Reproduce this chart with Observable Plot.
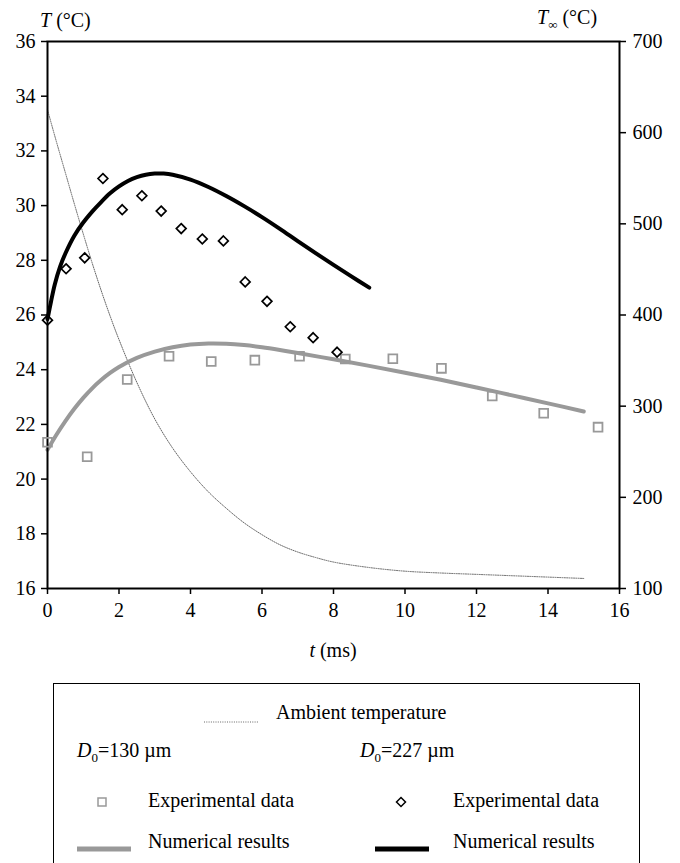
<!DOCTYPE html>
<html><head><meta charset="utf-8">
<script src="https://cdn.jsdelivr.net/npm/d3@7"></script>
<script src="https://cdn.jsdelivr.net/npm/@observablehq/plot@0.6"></script>
<style>
body{margin:0;background:#fff;font-family:'Liberation Serif','Times New Roman',Times,serif;}
#wrap{position:relative;width:680px;height:863px;overflow:hidden;}
#legend{position:absolute;left:53px;top:683px;width:587px;height:220px;border:1.5px solid #000;border-bottom:none;box-sizing:border-box;}
.lt{position:absolute;font-size:20px;line-height:22px;transform:translateY(-50%);white-space:nowrap;color:#000;font-family:'Liberation Serif','Times New Roman',Times,serif;}
.ls{position:absolute;}
svg text{font-family:'Liberation Serif','Times New Roman',Times,serif !important;}
</style></head><body><div id="wrap"><div id="chart"></div><div id="legend"></div></div>
<script>
// ---- Data ----
const tTicks = [0, 2, 4, 6, 8, 10, 12, 14, 16];
const tempTicks = [16, 18, 20, 22, 24, 26, 28, 30, 32, 34, 36];
const ambientTicks = [100, 200, 300, 400, 500, 600, 700];

// D0 = 130 µm, experimental (squares)
const exp130T    = [0, 1.11, 2.23, 3.40, 4.58, 5.80, 7.05, 8.33, 9.66, 11.02, 12.44, 13.88, 15.40];
const exp130Temp = [21.35, 20.82, 23.64, 24.49, 24.30, 24.35, 24.49, 24.39, 24.40, 24.05, 23.04, 22.41, 21.90];

// D0 = 227 µm, experimental (diamonds)
const exp227T    = [0, 0.52, 1.04, 1.55, 2.09, 2.64, 3.18, 3.74, 4.33, 4.92, 5.53, 6.14, 6.79, 7.43, 8.10];
const exp227Temp = [25.81, 27.69, 28.09, 30.99, 29.85, 30.36, 29.80, 29.16, 28.78, 28.71, 27.21, 26.50, 25.57, 25.17, 24.64];

// D0 = 130 µm, numerical
const num130T    = [0, 0.25, 0.5, 0.75, 1.0, 1.25, 1.5, 1.75, 2.0, 2.5, 3.0, 3.5, 4.0, 4.5, 5.0, 5.5, 6.0, 6.5, 7.0, 8.0, 9.0, 10.0, 11.0, 12.0, 13.0, 14.0, 15.0];
const num130Temp = [21.07, 21.62, 22.12, 22.57, 22.97, 23.32, 23.62, 23.88, 24.10, 24.43, 24.66, 24.82, 24.92, 24.96, 24.95, 24.90, 24.82, 24.72, 24.61, 24.38, 24.14, 23.89, 23.63, 23.35, 23.06, 22.77, 22.47];

// D0 = 227 µm, numerical
const num227T    = [0, 0.1, 0.2, 0.35, 0.5, 0.75, 1.0, 1.25, 1.5, 1.75, 2.0, 2.25, 2.5, 2.75, 3.0, 3.25, 3.5, 4.0, 4.5, 5.0, 5.5, 6.0, 6.5, 7.0, 7.5, 8.0, 8.5, 9.0];
const num227Temp = [25.85, 26.50, 27.10, 27.76, 28.25, 28.90, 29.38, 29.78, 30.13, 30.45, 30.70, 30.90, 31.04, 31.13, 31.17, 31.17, 31.13, 30.95, 30.68, 30.35, 29.98, 29.58, 29.15, 28.70, 28.26, 27.83, 27.41, 27.00];

// Ambient temperature T∞ (°C), right axis
const ambT    = [0, 0.25, 0.5, 0.75, 1.0, 1.25, 1.5, 1.75, 2.0, 2.5, 3.0, 3.5, 4.0, 4.5, 5.0, 5.5, 6.0, 6.5, 7.0, 7.5, 8.0, 9.0, 10.0, 11.0, 12.0, 13.0, 14.0, 15.0];
const ambTemp = [625, 590, 556, 522, 489, 457, 427, 399, 373, 326, 286, 254, 228, 206, 188, 172, 159, 148, 140, 134, 129, 123, 119, 117, 115.5, 114, 112.5, 111];

// ---- Helpers ----
const FONT = "'Liberation Serif','Times New Roman',Times,serif";
const toLeft = v => 16 + (v - 100) / 30;
const fromLeft = d => Math.round(100 + (d - 16) * 30);
const zip = (xs, ys) => xs.map((x, i) => ({t: x, v: ys[i]}));

const exp130 = zip(exp130T, exp130Temp);
const exp227 = zip(exp227T, exp227Temp);
const num130 = zip(num130T, num130Temp);
const num227 = zip(num227T, num227Temp);
const amb = zip(ambT, ambTemp).map(d => ({t: d.t, v: toLeft(d.v)}));

const chart = Plot.plot({
  width: 680, height: 672,
  marginLeft: 47, marginRight: 61, marginTop: 41, marginBottom: 84,
  x: {domain: [0, 16]},
  y: {domain: [16, 36]},
  style: {fontFamily: FONT, fontSize: "20px", color: "#000", background: "#fff"},
  marks: [
    Plot.line(amb, {x: "t", y: "v", stroke: "#555", strokeWidth: 0.9, strokeDasharray: "1,1.3", curve: "catmull-rom"}),
    Plot.line(num130, {x: "t", y: "v", stroke: "#999", strokeWidth: 4, curve: "catmull-rom"}),
    Plot.line(num227, {x: "t", y: "v", stroke: "#000", strokeWidth: 4, curve: "catmull-rom"}),
    Plot.axisX({ticks: tTicks, tickSize: 6, tickPadding: 8, label: null, strokeWidth: 1.5, fontSize: 20}),
    Plot.axisY({ticks: tempTicks, tickSize: 6, tickPadding: 6, label: null, strokeWidth: 1.5, fontSize: 20}),
    Plot.axisY({anchor: "right", ticks: ambientTicks.map(toLeft), tickFormat: fromLeft, tickSize: 6, tickPadding: 7, label: null, strokeWidth: 1.5, fontSize: 20}),
    Plot.frame({stroke: "#000", strokeWidth: 2}),
    Plot.dot(exp130, {x: "t", y: "v", symbol: "square2", r: 5.6, stroke: "#999", strokeWidth: 1.8, fill: "none"}),
    Plot.dot(exp227, {x: "t", y: "v", symbol: "diamond2", r: 4.4, stroke: "#000", strokeWidth: 1.7, fill: "none"})
  ]
});
document.getElementById("chart").appendChild(chart);

const svg = d3.select(chart);
const lab = (x, y, anchor) => svg.append("text").attr("x", x).attr("y", y).attr("text-anchor", anchor || "start")
  .attr("font-family", FONT).attr("font-size", 20).attr("fill", "#000");
let a = lab(40, 27);
a.append("tspan").attr("font-style", "italic").text("T");
a.append("tspan").text(" (°C)");
let b = lab(537, 24);
b.append("tspan").attr("font-style", "italic").text("T");
b.append("tspan").attr("font-size", 13).attr("dy", 5).text("∞");
b.append("tspan").attr("dy", -5).text(" (°C)");
let c = lab(333, 657, "middle");
c.append("tspan").attr("font-style", "italic").text("t");
c.append("tspan").text(" (ms)");
svg.selectAll("text").style("font-family", FONT);

// ---- Legend ----
const leg = document.getElementById("legend");
function txt(x, y, html) {
  const d = document.createElement("div"); d.className = "lt";
  d.style.left = x + "px"; d.style.top = y + "px"; d.innerHTML = html; leg.appendChild(d);
}
function sym(x, y, w, h, inner) {
  const d = document.createElement("div"); d.className = "ls";
  d.style.left = x + "px"; d.style.top = y + "px";
  d.innerHTML = `<svg width="${w}" height="${h}">${inner}</svg>`; leg.appendChild(d);
}
sym(149, 27, 56, 6, `<line x1="1" y1="3" x2="55" y2="3" stroke="#555" stroke-width="0.9" stroke-dasharray="1,1.3"/>`);
txt(222, 28, "Ambient temperature");
txt(23, 70, '<i>D</i><sub style="font-size:13px">0</sub>=130 µm');
txt(306, 70, '<i>D</i><sub style="font-size:13px">0</sub>=227 µm');
sym(42, 110, 12, 12, `<rect x="2" y="2" width="8" height="8" fill="none" stroke="#999" stroke-width="1.5"/>`);
txt(94, 116, "Experimental data");
sym(341, 110, 12, 12, `<path d="M6,1.5L10.5,6L6,10.5L1.5,6Z" fill="none" stroke="#000" stroke-width="1.5"/>`);
txt(399, 116, "Experimental data");
sym(23, 154, 54, 6, `<rect x="0" y="0.5" width="54" height="5" fill="#999"/>`);
txt(94, 157, "Numerical results");
sym(321, 154, 54, 6, `<rect x="0" y="0.5" width="54" height="5" fill="#000"/>`);
txt(399, 157, "Numerical results");
</script></body></html>
